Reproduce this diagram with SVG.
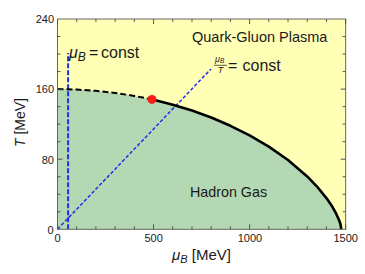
<svg xmlns="http://www.w3.org/2000/svg" width="365" height="274" viewBox="0 0 365 274">
<style>
text{font-family:"Liberation Sans",Arial,sans-serif;fill:#1a1a1a}
.tk{font-size:11px}
.it{font-style:italic}
.ticks{stroke:#555;stroke-width:1;fill:none}
.blue{stroke:#1F2FEA;fill:none}
</style>
<rect x="0" y="0" width="365" height="274" fill="#fff"/>
<g id="regions">
<rect x="57.5" y="19" width="288.15" height="210.3" fill="#FFFFB5"/>
<path d="M57.5,89.1 L76.7,89.6 L95.9,90.8 L115.1,92.9 L134.3,95.9 L152,99.4 L153.6,99.8 L172.8,104.7 L192,110.5 L211.2,117.5 L230.4,125.8 L249.6,135.4 L268.8,146.6 L288,160 L307.2,176.4 L316.8,186.3 L326.4,198.1 L332.4,206.8 L336.3,213.9 L339.3,220.8 L340.4,223.9 L341,227.4 L341.2,229.3 L57.5,229.3 Z" fill="#B3D8B3"/>
</g>
<g id="connectors">
<path class="blue" d="M68.1,229.3 V53" stroke-width="2" stroke-dasharray="5,2"/>
<path class="blue" d="M57.5,229.3 L211,69" stroke-width="1.5" stroke-dasharray="3.5,2"/>
<path d="M57.5,89.1 L76.7,89.6 L95.9,90.8 L115.1,92.9 L134.3,95.9 L152,99.4" fill="none" stroke="#000" stroke-width="2" stroke-dasharray="6,3"/>
<path d="M152,99.4 L153.6,99.8 L172.8,104.7 L192,110.5 L211.2,117.5 L230.4,125.8 L249.6,135.4 L268.8,146.6 L288,160 L307.2,176.4 L316.8,186.3 L326.4,198.1 L332.4,206.8 L336.3,213.9 L339.3,220.8 L340.4,223.9 L341,227.4 L341.2,229.3" fill="none" stroke="#000" stroke-width="2.6" stroke-linejoin="round"/>
</g>
<g id="frame">
<rect x="57.5" y="19" width="288.15" height="210.3" fill="none" stroke="#666" stroke-width="1"/>
<path class="ticks" d="M57.5,229.3v-5 M76.71,229.3v-3 M95.92,229.3v-3 M115.13,229.3v-3 M134.34,229.3v-3 M153.55,229.3v-5 M172.76,229.3v-3 M191.97,229.3v-3 M211.18,229.3v-3 M230.39,229.3v-3 M249.6,229.3v-5 M268.81,229.3v-3 M288.02,229.3v-3 M307.23,229.3v-3 M326.44,229.3v-3 M345.65,229.3v-5
M57.5,19v5 M76.71,19v3 M95.92,19v3 M115.13,19v3 M134.34,19v3 M153.55,19v5 M172.76,19v3 M191.97,19v3 M211.18,19v3 M230.39,19v3 M249.6,19v5 M268.81,19v3 M288.02,19v3 M307.23,19v3 M326.44,19v3 M345.65,19v5
M57.5,211.78h3 M57.5,194.25h3 M57.5,176.73h3 M57.5,159.2h5 M57.5,141.68h3 M57.5,124.15h3 M57.5,106.63h3 M57.5,89.1h5 M57.5,71.58h3 M57.5,54.05h3 M57.5,36.53h3
M345.65,211.78h-3 M345.65,194.25h-3 M345.65,176.73h-3 M345.65,159.2h-5 M345.65,141.68h-3 M345.65,124.15h-3 M345.65,106.63h-3 M345.65,89.1h-5 M345.65,71.58h-3 M345.65,54.05h-3 M345.65,36.53h-3"/>
</g>
<g id="critical-point">
<circle cx="152" cy="99.4" r="4.5" fill="#FF1A1A"/>
</g>
<g id="tick-labels" class="tk">
<text class="tk" x="54" y="23" text-anchor="end">240</text>
<text class="tk" x="54" y="93" text-anchor="end">160</text>
<text class="tk" x="54" y="163.5" text-anchor="end">80</text>
<text class="tk" x="53.5" y="234" text-anchor="end">0</text>
<text class="tk" x="57.5" y="241.5" text-anchor="middle">0</text>
<text class="tk" x="153.6" y="241.5" text-anchor="middle">500</text>
<text class="tk" x="250" y="241.5" text-anchor="middle">1000</text>
<text class="tk" x="345.7" y="241.5" text-anchor="middle">1500</text>
</g>
<g id="axis-titles">
<text transform="translate(25,122.5) rotate(-90)" text-anchor="middle" font-size="14"><tspan class="it">T</tspan> [MeV]</text>
<text x="172" y="260" font-size="15"><tspan class="it">μ</tspan><tspan class="it" font-size="11" dy="3">B</tspan><tspan dy="-3"> [MeV]</tspan></text>
</g>
<g id="label-qgp"><text x="192" y="42" font-size="14.5">Quark-Gluon Plasma</text></g>
<g id="label-hadron"><text x="190" y="196.5" font-size="14.3">Hadron Gas</text></g>
<g id="label-mu-const">
<text x="69" y="57.5" font-size="16"><tspan class="it">μ</tspan><tspan class="it" font-size="12" dy="3">B</tspan><tspan dy="-3" x="89">=</tspan><tspan x="101">const</tspan></text>
</g>
<g id="label-ratio-const">
<text x="215" y="61.5" font-size="9"><tspan class="it">μ</tspan><tspan class="it" font-size="6.5" dy="1.5">B</tspan></text>
<line x1="214" y1="65.3" x2="227" y2="65.3" stroke="#1a1a1a" stroke-width="0.7"/>
<text x="220.5" y="73" font-size="9" text-anchor="middle" class="it">T</text>
<text x="228" y="70.5" font-size="16">=</text>
<text x="242.5" y="70.5" font-size="16">const</text>
</g>
</svg>
